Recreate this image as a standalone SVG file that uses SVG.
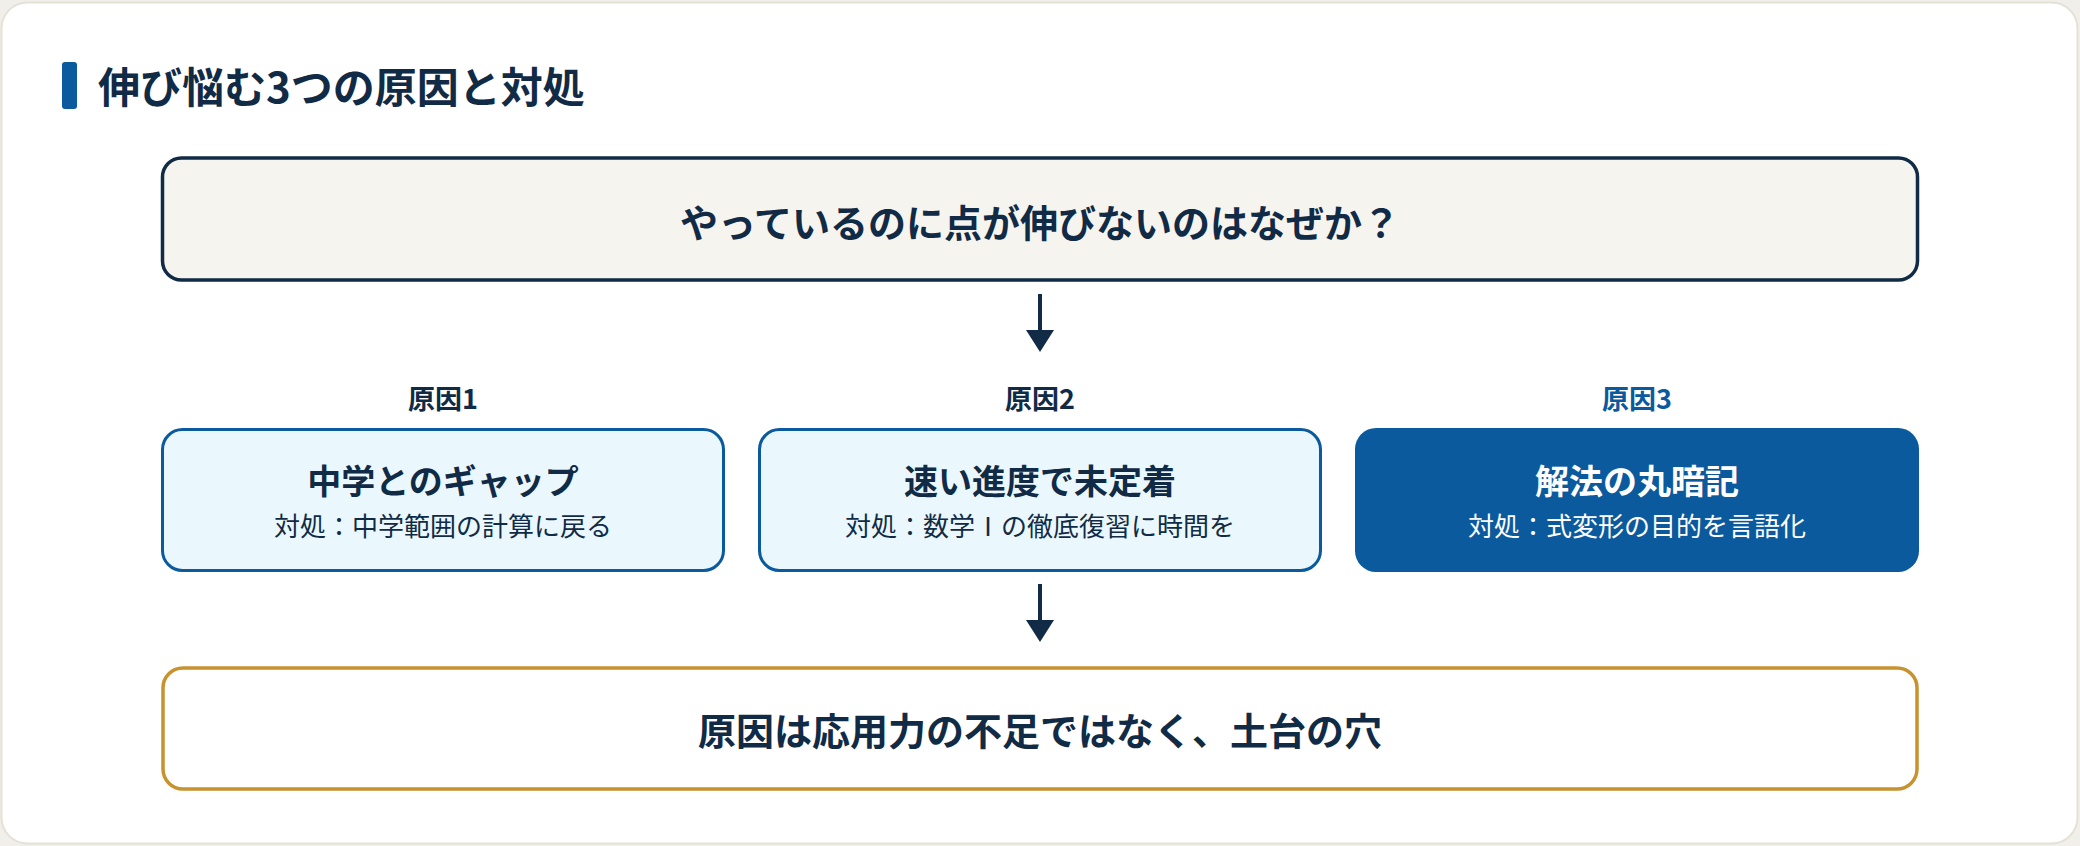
<svg xmlns="http://www.w3.org/2000/svg" width="2080" height="846" viewBox="0 0 2080 846">
<style>
text{font-family:"Noto Sans CJK JP","Noto Sans",sans-serif;fill:#112b46;}
.b{font-weight:700;}
.title{font-size:42px;font-weight:700;}
.main{font-size:38px;font-weight:700;text-anchor:middle;}
.lab{font-size:27px;font-weight:700;text-anchor:middle;}
.nt{font-size:34px;font-weight:700;text-anchor:middle;}
.ns{font-size:26px;font-weight:400;text-anchor:middle;}
.cause{fill:#eaf8fe;stroke:#0b5a9d;stroke-width:3;}
.conn{stroke:#112b46;stroke-width:4;fill:none;}
</style>
<defs>
<marker id="ah" viewBox="0 0 22 28" refX="0" refY="14" markerWidth="22" markerHeight="28" markerUnits="userSpaceOnUse" orient="auto">
<path d="M0,0 L22,14 L0,28 z" fill="#112b46"/>
</marker>
</defs>
<rect x="0" y="0" width="2080" height="846" fill="#f1efe9"/>
<rect x="1.5" y="2.5" width="2076" height="841" rx="26" fill="#ffffff" stroke="#e4e1d6" stroke-width="2"/>
<g id="title">
<rect x="62" y="62" width="15" height="47" rx="3" fill="#0b5a9d"/>
<text class="title" x="98" y="103">伸び悩む3つの原因と対処</text>
</g>
<g id="question">
<rect x="162.5" y="158" width="1755" height="122" rx="19" fill="#f6f4ef" stroke="#112b46" stroke-width="3.5"/>
<text class="main" x="1040" y="237">やっているのに点が伸びないのはなぜか？</text>
</g>
<g id="cause1">
<text class="lab" x="443" y="409">原因1</text>
<rect class="cause" x="162.5" y="429.5" width="561" height="141" rx="20"/>
<text class="nt" x="443" y="494">中学とのギャップ</text>
<text class="ns" x="443" y="536">対処：中学範囲の計算に戻る</text>
</g>
<g id="cause2">
<text class="lab" x="1040" y="409">原因2</text>
<rect class="cause" x="759.5" y="429.5" width="561" height="141" rx="20"/>
<text class="nt" x="1040" y="494">速い進度で未定着</text>
<text class="ns" x="1040" y="536">対処：数学Ⅰの徹底復習に時間を</text>
</g>
<g id="cause3">
<text class="lab" x="1637" y="409" style="fill:#0b5a9d">原因3</text>
<rect x="1355" y="428" width="564" height="144" rx="21" fill="#0b5a9d"/>
<text class="nt" x="1637" y="494" style="fill:#ffffff">解法の丸暗記</text>
<text class="ns" x="1637" y="536" style="fill:#ffffff">対処：式変形の目的を言語化</text>
</g>
<g id="conclusion">
<rect x="163" y="668" width="1754" height="121" rx="20" fill="#ffffff" stroke="#c8932f" stroke-width="3.5"/>
<text class="main" x="1040" y="745">原因は応用力の不足ではなく、土台の穴</text>
</g>
<g id="connectors">
<path class="conn" d="M1040,294 L1040,330" marker-end="url(#ah)"/>
<path class="conn" d="M1040,584 L1040,620" marker-end="url(#ah)"/>
</g>
</svg>
